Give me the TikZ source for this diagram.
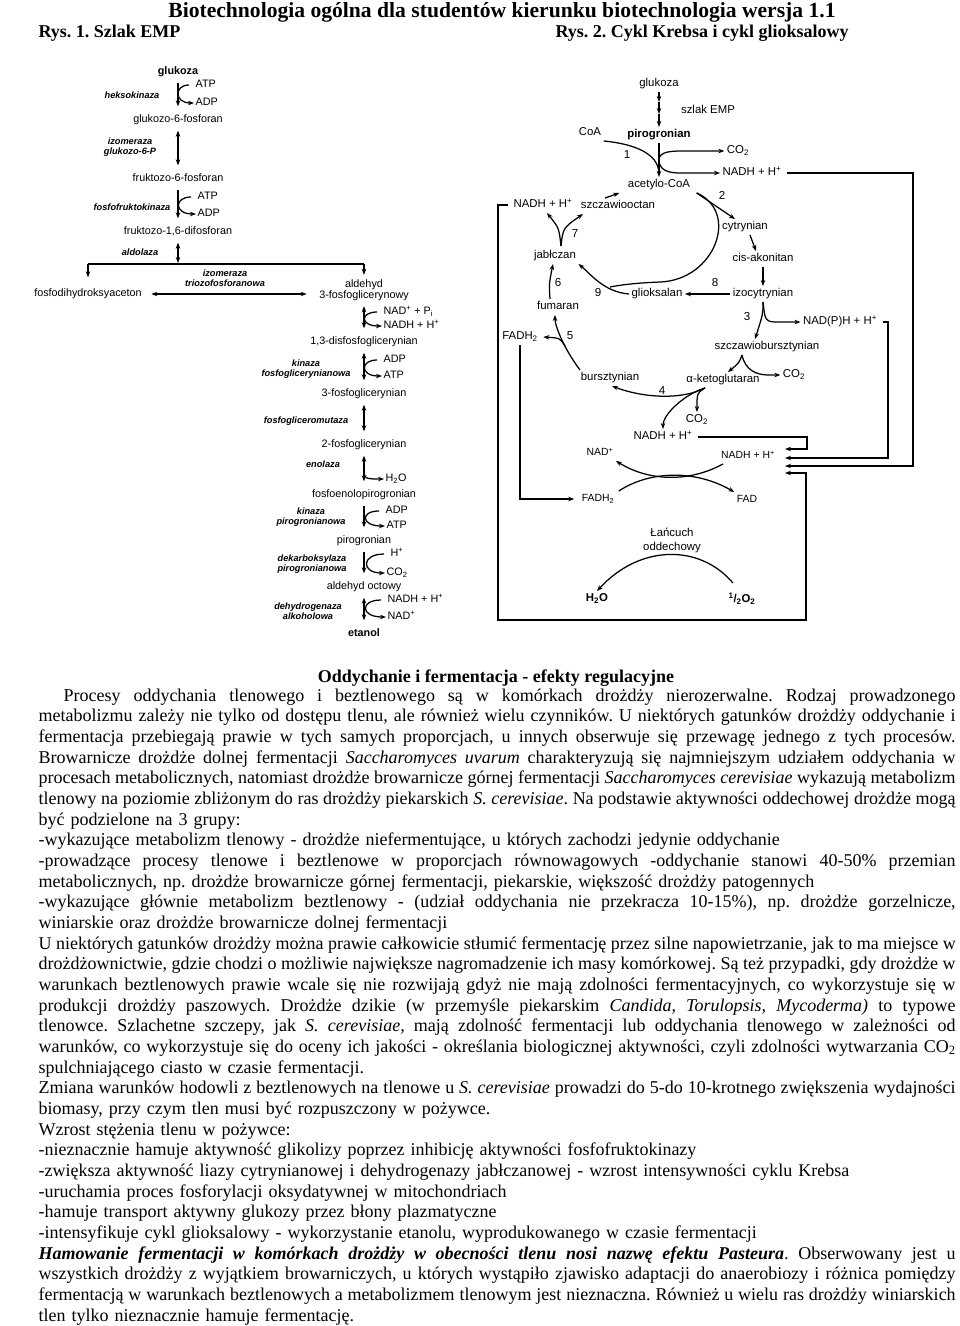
\documentclass[tikz,border=0pt]{standalone}
\usepackage{fontspec}
\setmainfont{Liberation Serif}
\newfontfamily\diafont{Liberation Sans}
\usetikzlibrary{arrows.meta}
\frenchspacing

\newcommand\jrow[1]{\par\noindent\hbox to 917pt{\spaceskip=4.5pt plus 8pt minus 2pt\relax#1}\par}
\newcommand\erow[1]{\par\noindent\hbox{#1}\par}

\tikzset{
  met/.style={font=\diafont\fontsize{10.8}{11}\selectfont,inner sep=2pt,text height=7.8pt,text depth=2.3pt},
  metb/.style={met,font=\diafont\bfseries\fontsize{10.8}{11}\selectfont},
  mettwo/.style={font=\diafont\fontsize{10.8}{11}\selectfont,inner sep=2pt,align=center},
  cof/.style={met,anchor=west,inner sep=1pt},
  enz/.style={font=\diafont\bfseries\itshape\fontsize{9.2}{10.5}\selectfont,inner sep=1pt,align=center},
  kreb/.style={font=\diafont\fontsize{11.4}{13}\selectfont,inner sep=2pt,text height=8.3pt,text depth=2.4pt},
  krebb/.style={kreb,font=\diafont\bfseries\fontsize{11.4}{13}\selectfont},
  low/.style={kreb,font=\diafont\fontsize{10.4}{12}\selectfont},
  numlbl/.style={kreb,font=\diafont\fontsize{11.6}{13}\selectfont},
  sidearr/.style={->,shorten <=5pt},
  mainarr/.style={shorten <=3pt,shorten >=6pt},
  bodytxt/.style={font=\fontsize{18}{20.67}\selectfont,inner sep=0pt},
  headtxt/.style={font=\bfseries\fontsize{18}{20.83}\selectfont,inner sep=0pt},
}

\begin{document}
\begin{tikzpicture}[x=1pt,y=-1pt,>={Stealth[length=6pt,width=4.5pt]},line width=1.25pt]

\useasboundingbox (0,0) rectangle (960,1326);
\fill[white] (0,0) rectangle (960,1326);

% Headings
\node[headtxt,font=\bfseries\fontsize{21.6}{24}\selectfont,anchor=base] (title) at (502,17) {Biotechnologia ogólna dla studentów kierunku biotechnologia wersja 1.1};
\node[headtxt,anchor=base west] (rys1) at (38,37) {Rys. 1. Szlak EMP};
\node[headtxt,anchor=base west] (rys2) at (555,37) {Rys. 2. Cykl Krebsa i cykl glioksalowy};

% EMP pathway
\node[metb] (glu) at (178,72) {glukoza};
\node[met] (g6p) at (178,120) {glukozo-6-fosforan};
\node[met] (f6p) at (178,179) {fruktozo-6-fosforan};
\node[met] (fbp) at (178,232) {fruktozo-1,6-difosforan};
\node[met] (dhap) at (88,294) {fosfodihydroksyaceton};
\node[mettwo] (gap) at (364,290) {aldehyd\\3-fosfoglicerynowy};
\node[met] (bpg) at (364,342) {1,3-disfosfoglicerynian};
\node[met] (pgt) at (364,394) {3-fosfoglicerynian};
\node[met] (pgd) at (364,445) {2-fosfoglicerynian};
\node[met] (pep) at (364,495) {fosfoenolopirogronian};
\node[met] (pyr) at (364,541) {pirogronian};
\node[met] (acal) at (364,587) {aldehyd octowy};
\node[metb] (eth) at (364,634) {etanol};

% cofactors
\node[cof] (atpa) at (194,85) {ATP};
\node[cof] (adpa) at (194,103) {ADP};
\node[cof] (atpb) at (196,197) {ATP};
\node[cof] (adpb) at (196,214) {ADP};
\node[cof] (nadp) at (382,312) {NAD\textsuperscript{+} + P\textsubscript{i}};
\node[cof] (nadhl) at (382,326) {NADH + H\textsuperscript{+}};
\node[cof] (adpc) at (382,360) {ADP};
\node[cof] (atpc) at (382,376) {ATP};
\node[cof] (h2oa) at (384,479) {H\textsubscript{2}O};
\node[cof] (adpd) at (384,511) {ADP};
\node[cof] (atpd) at (385,526) {ATP};
\node[cof] (hpl) at (389,554) {H\textsuperscript{+}};
\node[cof] (co2l) at (385,573) {CO\textsubscript{2}};
\node[cof] (nadhe) at (386,600) {NADH + H\textsuperscript{+}};
\node[cof] (nade) at (386,617) {NAD\textsuperscript{+}};

% enzymes
\node[enz] (ea) at (132,95) {heksokinaza};
\node[enz] (eb) at (130,147) {izomeraza\\glukozo-6-P};
\node[enz] (ec) at (132,207) {fosfofruktokinaza};
\node[enz] (ed) at (140,252) {aldolaza};
\node[enz] (ee) at (225,278) {izomeraza\\triozofosforanowa};
\node[enz] (ef) at (306,369) {kinaza\\fosfoglicerynianowa};
\node[enz] (eg) at (306,421) {fosfogliceromutaza};
\node[enz] (eh) at (323,464) {enolaza};
\node[enz] (ei) at (311,517) {kinaza\\pirogronianowa};
\node[enz] (ej) at (312,564) {dekarboksylaza\\pirogronianowa};
\node[enz] (ek) at (308,611) {dehydrogenaza\\alkoholowa};

% EMP arrows
\draw[->,mainarr] (glu) -- (g6p);
\draw[sidearr] (atpa.west) .. controls +(-20,0) and +(-20,0) .. (adpa.west);
\draw[<->,mainarr] (g6p) -- (f6p);
\draw[->,mainarr] (f6p) -- (fbp);
\draw[sidearr] (atpb.west) .. controls +(-22,0) and +(-22,0) .. (adpb.west);
\coordinate (split) at (178,264);
\draw[<->,shorten <=3pt,shorten >=1pt] (fbp) -- (split);
\draw (dhap.north |- split) -- (gap.north |- split);
\draw[->,shorten >=9pt] (dhap.north |- split) -- (dhap.north);
\draw[->,shorten >=2pt] (gap.north |- split) -- (gap.north);
\draw[<->,shorten <=7pt,shorten >=10pt] (dhap.east) -- (dhap.east -| gap.west);
\draw[<->,mainarr] (gap) -- (bpg);
\draw[sidearr] (nadp.west) .. controls +(-22,0) and +(-22,0) .. (nadhl.west);
\draw[<->,mainarr] (bpg) -- (pgt);
\draw[sidearr] (adpc.west) .. controls +(-22,0) and +(-22,0) .. (atpc.west);
\draw[<->,mainarr] (pgt) -- (pgd);
\draw[<->,mainarr] (pgd) -- (pep);
\coordinate (enol) at (364,466);
\draw[->] (enol) .. controls +(0,13) .. (h2oa.west);
\draw[->,mainarr] (pep) -- (pyr);
\draw[sidearr] (adpd.west) .. controls +(-24,0) and +(-24,0) .. (atpd.west);
\draw[->,mainarr] (pyr) -- (acal);
\draw[sidearr] (hpl.west) .. controls +(-28,0) and +(-24,0) .. (co2l.west);
\draw[<->,mainarr] (acal) -- (eth);
\draw[sidearr] (nadhe.west) .. controls +(-26,0) and +(-26,0) .. (nade.west);

% Krebs and glyoxylate cycle
\node[kreb] (glub) at (659,84) {glukoza};
\node[kreb] (emp) at (708,111) {szlak EMP};
\node[krebb] (pyrb) at (659,135) {pirogronian};
\node[kreb] (coa) at (590,133) {CoA};
\node[kreb] (co2a) at (738,151) {CO\textsubscript{2}};
\node[kreb] (nadha) at (752,173) {NADH + H\textsuperscript{+}};
\node[kreb] (acoa) at (659,185) {acetylo-CoA};
\node[kreb] (nadhb) at (543,205) {NADH + H\textsuperscript{+}};
\node[kreb] (oaa) at (618,206) {szczawiooctan};
\node[kreb] (cit) at (745,227) {cytrynian};
\node[kreb] (cisa) at (763,259) {cis-akonitan};
\node[kreb] (iso) at (763,294) {izocytrynian};
\node[kreb] (glx) at (657,294) {glioksalan};
\node[kreb] (mal) at (555,256) {jabłczan};
\node[kreb] (fum) at (558,307) {fumaran};
\node[kreb] (fadha) at (520,337) {FADH\textsubscript{2}};
\node[kreb] (nadph) at (840,322) {NAD(P)H + H\textsuperscript{+}};
\node[kreb] (sbs) at (767,347) {szczawiobursztynian};
\node[kreb] (bur) at (610,378) {bursztynian};
\node[kreb] (akg) at (723,380) {α-ketoglutaran};
\node[kreb] (co2c) at (794,375) {CO\textsubscript{2}};
\node[kreb] (co2b) at (697,420) {CO\textsubscript{2}};
\node[kreb] (nadhc) at (663,437) {NADH + H\textsuperscript{+}};

% respiratory chain
\node[low] (nad) at (600,453) {NAD\textsuperscript{+}};
\node[low] (nadhd) at (748,456) {NADH + H\textsuperscript{+}};
\node[low] (fadhb) at (598,499) {FADH\textsubscript{2}};
\node[low] (fad) at (747,500) {FAD};
\node[font=\diafont\fontsize{11.4}{14}\selectfont,align=center,inner sep=2pt] (chain) at (672,540) {Łańcuch\\oddechowy};
\node[krebb] (h2ob) at (597,599) {H\textsubscript{2}O};
\node[krebb] (otwo) at (742,600) {\textsuperscript{1}/\textsubscript{2}O\textsubscript{2}};

% reaction numbers
\node[numlbl] (na) at (627,156) {1};
\node[numlbl] (nb) at (722,197) {2};
\node[numlbl] (nc) at (747,318) {3};
\node[numlbl] (nd) at (662,392) {4};
\node[numlbl] (ne) at (570,337) {5};
\node[numlbl] (nf) at (558,284) {6};
\node[numlbl] (ng) at (575,235) {7};
\node[numlbl] (nh) at (715,284) {8};
\node[numlbl] (ni) at (598,294) {9};

% glucose to pyruvate
\coordinate (empa) at (659,102);
\coordinate (empb) at (659,114);
\draw[->] (glub) -- (empa);
\draw[->] (empa) -- (empb);
\draw[->] (empb) -- (pyrb);

% pyruvate dehydrogenase
\coordinate (pdh) at (659,160);
\draw[->] (pyrb) -- (acoa);
\draw (coa.south east) .. controls +(40,4) and +(0,-16) .. ([yshift=3pt]acoa.north);
\draw[->] (pdh) .. controls +(0,-9) and +(-12,0) .. ([xshift=-40pt]co2a.west) -- (co2a.west);
\draw[->] (pdh) .. controls +(0,10) and +(-12,0) .. ([xshift=-40pt]nadha.west) -- (nadha.west);

% cycle
\draw[->] ([xshift=-13pt]oaa.north) -- ([xshift=-6pt]acoa.south west);
\draw[->] ([xshift=4pt]acoa.south east) -- ([xshift=-10pt]cit.north);
\draw[->] ([xshift=5pt]cit.south) -- ([xshift=-7pt]cisa.north);
\draw[->] (cisa) -- (iso);
\draw[->] (iso) -- (glx);
\draw[->] (glx.west) .. controls +(-25,-2) and +(12,10) .. (mal.south east);
\draw ([xshift=4pt]acoa.south east) .. controls (740,212) and (715,280) .. (660,282)
  .. controls (635,283) and (620,285) .. (610,287);
\draw[->] ([xshift=6pt,yshift=2pt]mal.north) .. controls +(-2,-18) .. ([xshift=4pt]nadhb.south);
\draw[->] ([xshift=6pt,yshift=2pt]mal.north) .. controls +(2,-18) .. ([xshift=-35pt]oaa.south);
\draw[->] ([xshift=-8pt]fum.north) .. controls +(-1,-15) .. ([xshift=-2pt]mal.south);
\draw[->] ([xshift=-30pt]bur.north) .. controls +(-15,-20) and +(0,12) .. ([xshift=-3pt]fum.south);
\coordinate (sdh) at (565,346);
\draw[->] (sdh) .. controls +(-5,-8) .. ([xshift=3pt]fadha.east);
\draw[->] ([xshift=-18pt]akg.south) .. controls +(-25,13) and +(28,11) .. ([xshift=2pt]bur.south);
\draw[->] ([xshift=-18pt]akg.south) .. controls +(-8,5) .. (co2b.north);
\draw[->] ([xshift=-18pt]akg.south) .. controls +(-20,6) and +(0,-15) .. (nadhc.north);
\draw[->] (iso.south) .. controls +(0,12) .. ([xshift=-12pt]sbs.north);
\draw[->] (iso.south) .. controls +(2,14) and +(-12,0) .. ([xshift=-25pt]nadph.west) -- (nadph.west);
\draw[->] ([xshift=-25pt]sbs.south) .. controls +(-3,8) .. ([xshift=5pt]akg.north);
\draw[->] ([xshift=-25pt]sbs.south) .. controls +(3,15) and +(-12,0) .. ([xshift=-12pt]co2c.west) -- (co2c.west);

% NADH to respiratory chain
\coordinate (ina) at (785,449);
\coordinate (inb) at (785,458);
\coordinate (inc) at (785,466);
\coordinate (ind) at (785,473);
\draw[->] ([xshift=3pt]nadhc.east) -| (807,449) -- (ina);
\draw[->] ([xshift=3pt]nadph.east) -| (888,458) -- (inb);
\draw[->] ([xshift=3pt]nadha.east) -| (913,466) -- (inc);
\draw[->] ([xshift=-3pt]nadhb.west) -| (498,620) -| (806,473) -- (ind);
\draw[->] (fadha.south) |- ([xshift=-5pt]fadhb.west);

% electron carriers
\draw[->] ([xshift=-25pt]nadhd.south) .. controls +(-33,18) and +(34,21) .. (nad.south east);
\draw[->] ([xshift=2pt]fadhb.north east) .. controls +(32,-21) and +(-38,-22) .. (fad.north west);
\draw[->] ([xshift=-9pt,yshift=9pt]otwo.north) .. controls +(-33,-39) and +(43,-47) .. (h2ob.north);

% Text
\node[headtxt,anchor=base] (head) at (496,682) {Oddychanie i fermentacja - efekty regulacyjne};
\node[bodytxt,text width=917pt,anchor=base west] (txt) at (38,680.33) {%
\jrow{\hspace*{25pt}Procesy oddychania tlenowego i beztlenowego są w komórkach drożdży nierozerwalne. Rodzaj prowadzonego}
\jrow{metabolizmu zależy nie tylko od dostępu tlenu, ale również wielu czynników. U niektórych gatunków drożdży oddychanie i}
\jrow{fermentacja przebiegają prawie w tych samych proporcjach, u innych obserwuje się przewagę jednego z tych procesów.}
\jrow{Browarnicze drożdże dolnej fermentacji \textit{Saccharomyces uvarum} charakteryzują się najmniejszym udziałem oddychania w}
\jrow{procesach metabolicznych, natomiast drożdże browarnicze górnej fermentacji \textit{Saccharomyces cerevisiae} wykazują metabolizm}
\jrow{tlenowy na poziomie zbliżonym do ras drożdży piekarskich \textit{S. cerevisiae}. Na podstawie aktywności oddechowej drożdże mogą}
\erow{być podzielone na 3 grupy:}
\erow{-wykazujące metabolizm tlenowy - drożdże niefermentujące, u których zachodzi jedynie oddychanie}
\jrow{-prowadzące procesy tlenowe i beztlenowe w proporcjach równowagowych -oddychanie stanowi 40-50\% przemian}
\erow{metabolicznych, np. drożdże browarnicze górnej fermentacji, piekarskie, większość drożdży patogennych}
\jrow{-wykazujące głównie metabolizm beztlenowy - (udział oddychania nie przekracza 10-15\%), np. drożdże gorzelnicze,}
\erow{winiarskie oraz drożdże browarnicze dolnej fermentacji}
\jrow{U niektórych gatunków drożdży można prawie całkowicie stłumić fermentację przez silne napowietrzanie, jak to ma miejsce w}
\jrow{drożdżownictwie, gdzie chodzi o możliwie największe nagromadzenie ich masy komórkowej. Są też przypadki, gdy drożdże w}
\jrow{warunkach beztlenowych prawie wcale się nie rozwijają gdyż nie mają zdolności fermentacyjnych, co wykorzystuje się w}
\jrow{produkcji drożdży paszowych. Drożdże dzikie (w przemyśle piekarskim \textit{Candida, Torulopsis, Mycoderma)} to typowe}
\jrow{tlenowce. Szlachetne szczepy, jak \textit{S. cerevisiae,} mają zdolność fermentacji lub oddychania tlenowego w zależności od}
\jrow{warunków, co wykorzystuje się do oceny ich jakości - określania biologicznej aktywności, czyli zdolności wytwarzania CO\textsubscript{2}}
\erow{spulchniającego ciasto w czasie fermentacji.}
\jrow{Zmiana warunków hodowli z beztlenowych na tlenowe u \textit{S. cerevisiae} prowadzi do 5-do 10-krotnego zwiększenia wydajności}
\erow{biomasy, przy czym tlen musi być rozpuszczony w pożywce.}
\erow{Wzrost stężenia tlenu w pożywce:}
\erow{-nieznacznie hamuje aktywność glikolizy poprzez inhibicję aktywności fosfofruktokinazy}
\erow{-zwiększa aktywność liazy cytrynianowej i dehydrogenazy jabłczanowej - wzrost intensywności cyklu Krebsa}
\erow{-uruchamia proces fosforylacji oksydatywnej w mitochondriach}
\erow{-hamuje transport aktywny glukozy przez błony plazmatyczne}
\erow{-intensyfikuje cykl glioksalowy - wykorzystanie etanolu, wyprodukowanego w czasie fermentacji}
\jrow{\textbf{\textit{Hamowanie fermentacji w komórkach drożdży w obecności tlenu nosi nazwę efektu Pasteura}}. Obserwowany jest u}
\jrow{wszystkich drożdży z wyjątkiem browarniczych, u których wystąpiło zjawisko adaptacji do anaerobiozy i różnica pomiędzy}
\jrow{fermentacją w warunkach beztlenowych a metabolizmem tlenowym jest nieznaczna. Również u wielu ras drożdży winiarskich}
\erow{tlen tylko nieznacznie hamuje fermentację.}
};

\end{tikzpicture}
\end{document}
